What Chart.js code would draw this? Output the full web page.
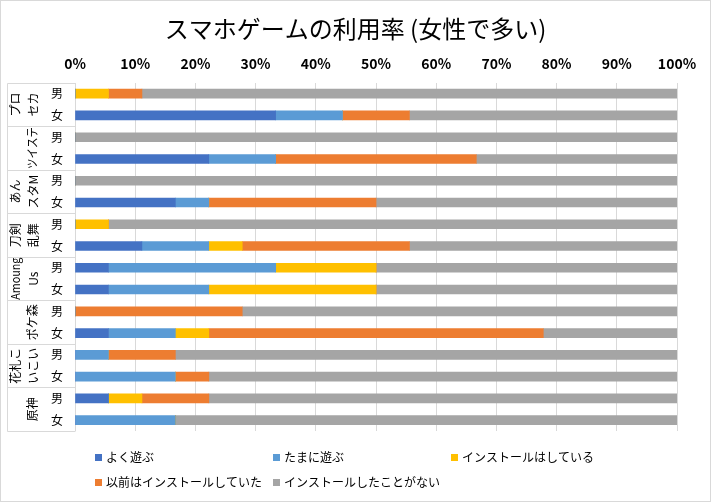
<!DOCTYPE html>
<html>
<head>
<meta charset="utf-8">
<script src="https://cdn.jsdelivr.net/npm/chart.js@4.4.1/dist/chart.umd.min.js"></script>
<style>
html,body{margin:0;padding:0;background:#fff;}
canvas{display:block;}
</style>
</head>
<body>
<canvas id="c" width="711" height="502"></canvas>
<script>
const games = ['プロセカ', 'ツイステ', 'あんスタM', '刀剣乱舞', 'Amoung Us', 'ポケ森', '花札こいこい', '原神'];
const gameLines = [['プロ','セカ'], ['ツイステ'], ['あん','スタM'], ['刀剣','乱舞'], ['Amoung','Us'], ['ポケ森'], ['花札こ','いこい'], ['原神']];
const genders = ['男', '女'];
const seriesNames = ['よく遊ぶ', 'たまに遊ぶ', 'インストールはしている', '以前はインストールしていた', 'インストールしたことがない'];
const seriesColors = ['#4472C4', '#5B9BD5', '#FFC000', '#ED7D31', '#A5A5A5'];
const tickLabels = ['0%','10%','20%','30%','40%','50%','60%','70%','80%','90%','100%'];
const chartTitle = 'スマホゲームの利用率 (女性で多い)';

// rows: each game -> 男, 女
const playOften   = [0, 33.33, 0, 22.22, 0, 16.67, 0, 11.11, 5.56, 5.56, 0, 5.56, 0, 0, 5.56, 0];
const playSometimes = [0, 11.11, 0, 11.11, 0, 5.56, 0, 11.11, 27.78, 16.67, 0, 11.11, 5.56, 16.67, 0, 16.67];
const installed   = [5.56, 0, 0, 0, 0, 0, 5.56, 5.56, 16.67, 27.78, 0, 5.56, 0, 0, 5.56, 0];
const installedBefore = [5.56, 11.11, 0, 33.33, 0, 27.78, 0, 27.78, 0, 0, 27.78, 55.56, 11.11, 5.56, 11.11, 0];
const neverInstalled = [88.89, 44.44, 100, 33.33, 100, 50, 94.44, 44.44, 50, 50, 72.22, 22.22, 83.33, 77.78, 77.78, 83.33];

const seriesValues = [playOften, playSometimes, installed, installedBefore, neverInstalled];

const rowLabels = [];
games.forEach(g => genders.forEach(s => rowLabels.push(g + '|' + s)));

const FONT = '"Noto Sans CJK JP", "Noto Sans", sans-serif';
const GRID = '#D9D9D9';

const decorPlugin = {
  id: 'decor',
  beforeDraw(chart) {
    const ctx = chart.ctx;
    ctx.save();
    ctx.fillStyle = '#fff';
    ctx.fillRect(0, 0, chart.width, chart.height);
    ctx.restore();
  },
  afterDraw(chart) {
    const ctx = chart.ctx;
    const area = chart.chartArea;
    const y = chart.scales.y;
    ctx.save();
    // outer border
    ctx.strokeStyle = GRID;
    ctx.lineWidth = 1;
    ctx.strokeRect(0.5, 0.5, chart.width - 1, chart.height - 1);
    // title
    ctx.fillStyle = '#000';
    ctx.font = '24px ' + FONT;
    ctx.textAlign = 'center';
    ctx.textBaseline = 'middle';
    ctx.fillText(chartTitle, chart.width / 2, 29);
    // category box
    const boxLeft = 7.5;
    const left = Math.round(area.left) + 0.5;
    const top = Math.round(area.top) + 0.5;
    const bottom = Math.round(area.bottom) + 0.5;
    ctx.beginPath();
    ctx.moveTo(boxLeft, top);
    ctx.lineTo(boxLeft, bottom);
    const rowH = (area.bottom - area.top) / rowLabels.length;
    for (let g = 0; g <= games.length; g++) {
      const yy = Math.round(area.top + g * 2 * rowH) + 0.5;
      ctx.moveTo(boxLeft, yy);
      ctx.lineTo(left, yy);
    }
    ctx.stroke();
    // gender labels
    ctx.fillStyle = '#000';
    ctx.font = '12px ' + FONT;
    rowLabels.forEach((lab, i) => {
      const yc = y.getPixelForValue(i);
      ctx.fillText(lab.split('|')[1], 57, yc);
    });
    // game labels (rotated)
    games.forEach((g, gi) => {
      const yc = (y.getPixelForValue(gi * 2) + y.getPixelForValue(gi * 2 + 1)) / 2;
      const lines = gameLines[gi];
      const xs = lines.length === 2 ? [15, 33] : [32];
      lines.forEach((ln, li) => {
        ctx.save();
        ctx.translate(xs[li], yc);
        ctx.rotate(-Math.PI / 2);
        const w = ctx.measureText(ln).width;
        const maxW = 42;
        if (w > maxW) ctx.scale(maxW / w, 1);
        ctx.fillText(ln, 0, 0);
        ctx.restore();
      });
    });
    // legend
    const cols = [95, 273, 451];
    const rowsY = [457.5, 482.5];
    ctx.font = '12px ' + FONT;
    ctx.textAlign = 'left';
    chart.data.datasets.forEach((ds, i) => {
      const r = Math.floor(i / 3), c = i % 3;
      const x = cols[c], yy = rowsY[r];
      ctx.fillStyle = ds.backgroundColor;
      ctx.fillRect(x, yy - 3.5, 7, 7);
      ctx.fillStyle = '#000';
      ctx.fillText(ds.label, x + 11, yy);
    });
    ctx.restore();
  }
};

new Chart(document.getElementById('c'), {
  type: 'bar',
  data: {
    labels: rowLabels,
    datasets: seriesNames.map((n, i) => ({
      label: n,
      data: seriesValues[i],
      backgroundColor: seriesColors[i],
      borderWidth: 0,
      barThickness: 9
    }))
  },
  options: {
    indexAxis: 'y',
    responsive: false,
    animation: false,
    devicePixelRatio: 1,
    layout: { padding: { left: 75, right: 34, top: 44, bottom: 71 } },
    plugins: {
      legend: { display: false },
      tooltip: { enabled: false },
      title: { display: false }
    },
    scales: {
      x: {
        position: 'top',
        stacked: true,
        min: 0,
        max: 100,
        ticks: {
          stepSize: 10,
          color: '#000',
          font: { family: FONT, size: 14, weight: 'bold' },
          padding: 11,
          callback: (v) => tickLabels[Math.round(v / 10)]
        },
        grid: { color: GRID, lineWidth: 1, drawTicks: false },
        border: { display: false }
      },
      y: {
        stacked: true,
        ticks: { display: false },
        grid: { display: false },
        border: { display: false },
        afterFit: (s) => { s.width = 0; }
      }
    }
  },
  plugins: [decorPlugin]
});
</script>
</body>
</html>
